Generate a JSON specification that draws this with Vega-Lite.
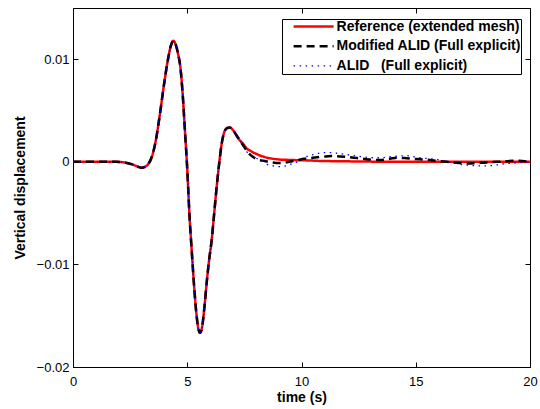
{
  "$schema": "https://vega.github.io/schema/vega-lite/v6.json",
  "width": 457,
  "height": 359,
  "autosize": {"type": "none"},
  "padding": {"left": 73, "top": 8, "right": 10, "bottom": 42},
  "background": "white",
  "config": {
    "view": {"stroke": "black", "strokeWidth": 1},
    "font": "Liberation Sans",
    "axis": {
      "domain": false,
      "grid": false,
      "tickColor": "black",
      "tickSize": -5,
      "tickWidth": 1,
      "labelColor": "black",
      "labelFont": "Liberation Sans",
      "labelFontSize": 13,
      "labelFlush": false,
      "labelOverlap": false,
      "titleFont": "Liberation Sans",
      "titleFontSize": 14,
      "titleFontWeight": "bold",
      "titleColor": "black"
    }
  },
  "data": {
    "values": [
      {"t": 0, "ref": 0, "mod": 0, "alid": 0},
      {"t": 1, "ref": 0, "mod": 0, "alid": 0},
      {"t": 1.9, "ref": 0, "mod": 0, "alid": 0},
      {"t": 2.3, "ref": -0.00008, "mod": -0.00008, "alid": -0.00008},
      {"t": 2.6, "ref": -0.00025, "mod": -0.00025, "alid": -0.00025},
      {"t": 2.85, "ref": -0.00048, "mod": -0.00048, "alid": -0.00048},
      {"t": 3.0, "ref": -0.00057, "mod": -0.00057, "alid": -0.00057},
      {"t": 3.15, "ref": -0.00048, "mod": -0.00048, "alid": -0.00048},
      {"t": 3.3, "ref": -0.0002, "mod": -0.0002, "alid": -0.0002},
      {"t": 3.45, "ref": 0.0005, "mod": 0.0005, "alid": 0.0005},
      {"t": 3.6, "ref": 0.0018, "mod": 0.0018, "alid": 0.0018},
      {"t": 3.8, "ref": 0.0046, "mod": 0.0046, "alid": 0.0046},
      {"t": 4.0, "ref": 0.0078, "mod": 0.0078, "alid": 0.0078},
      {"t": 4.15, "ref": 0.0099, "mod": 0.0099, "alid": 0.0099},
      {"t": 4.28, "ref": 0.0113, "mod": 0.0113, "alid": 0.0113},
      {"t": 4.39, "ref": 0.0118, "mod": 0.0118, "alid": 0.0118},
      {"t": 4.5, "ref": 0.0114, "mod": 0.0114, "alid": 0.0114},
      {"t": 4.6, "ref": 0.0105, "mod": 0.0105, "alid": 0.0105},
      {"t": 4.7, "ref": 0.0092, "mod": 0.0092, "alid": 0.0092},
      {"t": 4.8, "ref": 0.0066, "mod": 0.0066, "alid": 0.0066},
      {"t": 4.9, "ref": 0.003, "mod": 0.003, "alid": 0.003},
      {"t": 5.0, "ref": -0.0007, "mod": -0.0007, "alid": -0.0007},
      {"t": 5.1, "ref": -0.0053, "mod": -0.0053, "alid": -0.0053},
      {"t": 5.2, "ref": -0.0088, "mod": -0.0088, "alid": -0.0088},
      {"t": 5.3, "ref": -0.0121, "mod": -0.0121, "alid": -0.0121},
      {"t": 5.4, "ref": -0.0148, "mod": -0.0148, "alid": -0.0148},
      {"t": 5.48, "ref": -0.0162, "mod": -0.0162, "alid": -0.0162},
      {"t": 5.56, "ref": -0.01667, "mod": -0.01667, "alid": -0.01667},
      {"t": 5.65, "ref": -0.0161, "mod": -0.0161, "alid": -0.0161},
      {"t": 5.75, "ref": -0.0142, "mod": -0.0142, "alid": -0.0142},
      {"t": 5.85, "ref": -0.0118, "mod": -0.0118, "alid": -0.0118},
      {"t": 5.95, "ref": -0.0097, "mod": -0.0097, "alid": -0.0097},
      {"t": 6.07, "ref": -0.0076, "mod": -0.0076, "alid": -0.0076},
      {"t": 6.18, "ref": -0.005, "mod": -0.005, "alid": -0.005},
      {"t": 6.29, "ref": -0.0024, "mod": -0.0024, "alid": -0.0024},
      {"t": 6.4, "ref": -0.0001, "mod": -0.0001, "alid": -0.0001},
      {"t": 6.51, "ref": 0.0018, "mod": 0.0018, "alid": 0.0018},
      {"t": 6.62, "ref": 0.0029, "mod": 0.0029, "alid": 0.0029},
      {"t": 6.75, "ref": 0.0033, "mod": 0.0033, "alid": 0.0033},
      {"t": 6.87, "ref": 0.00334, "mod": 0.00334, "alid": 0.00334},
      {"t": 7.0, "ref": 0.0031, "mod": 0.0031, "alid": 0.0031},
      {"t": 7.15, "ref": 0.0026, "mod": 0.0026, "alid": 0.0026},
      {"t": 7.3, "ref": 0.0021, "mod": 0.0021, "alid": 0.0021},
      {"t": 7.45, "ref": 0.00175, "mod": 0.0016, "alid": 0.0015},
      {"t": 7.6, "ref": 0.0013, "mod": 0.0011, "alid": 0.001},
      {"t": 7.75, "ref": 0.0011, "mod": 0.0007, "alid": 0.0007},
      {"t": 7.9, "ref": 0.0009, "mod": 0.00045, "alid": 0.0005},
      {"t": 8.05, "ref": 0.00075, "mod": 0.00025, "alid": 0.00033},
      {"t": 8.2, "ref": 0.0006, "mod": 0.00015, "alid": 0.0002},
      {"t": 8.35, "ref": 0.0005, "mod": 0.0001, "alid": 0.0},
      {"t": 8.5, "ref": 0.0004, "mod": 0.00003, "alid": -0.00024},
      {"t": 8.7, "ref": 0.00032, "mod": -0.00005, "alid": -0.00036},
      {"t": 8.9, "ref": 0.00026, "mod": -0.0001, "alid": -0.00044},
      {"t": 9.06, "ref": 0.00022, "mod": -0.0001, "alid": -0.00047},
      {"t": 9.3, "ref": 0.0002, "mod": -0.00006, "alid": -0.0004},
      {"t": 9.5, "ref": 0.00018, "mod": 0.00003, "alid": -0.00024},
      {"t": 9.7, "ref": 0.00017, "mod": 0.0001, "alid": -0.00012},
      {"t": 9.9, "ref": 0.00016, "mod": 0.0002, "alid": 0.0001},
      {"t": 10.1, "ref": 0.00015, "mod": 0.0003, "alid": 0.0004},
      {"t": 10.5, "ref": 0.00012, "mod": 0.0004, "alid": 0.0007},
      {"t": 10.95, "ref": 0.00008, "mod": 0.0005, "alid": 0.0009},
      {"t": 11.3, "ref": 0.00007, "mod": 0.00057, "alid": 0.0009},
      {"t": 11.68, "ref": 0.00006, "mod": 0.00052, "alid": 0.0008},
      {"t": 12.0, "ref": 0.00005, "mod": 0.00047, "alid": 0.0007},
      {"t": 12.42, "ref": 0.00004, "mod": 0.00037, "alid": 0.00057},
      {"t": 12.71, "ref": 0.00003, "mod": 0.0003, "alid": 0.00048},
      {"t": 13.14, "ref": 0.00002, "mod": 0.0002, "alid": 0.0004},
      {"t": 13.44, "ref": 0.00001, "mod": 0.00018, "alid": 0.0004},
      {"t": 13.87, "ref": 0.00001, "mod": 0.0003, "alid": 0.0005},
      {"t": 14.17, "ref": 0, "mod": 0.0004, "alid": 0.00055},
      {"t": 14.6, "ref": 0, "mod": 0.00035, "alid": 0.0006},
      {"t": 14.9, "ref": 0, "mod": 0.0003, "alid": 0.0005},
      {"t": 15.19, "ref": 0, "mod": 0.00025, "alid": 0.0004},
      {"t": 15.62, "ref": 0, "mod": 0.00018, "alid": 0.0003},
      {"t": 15.92, "ref": 0, "mod": 0.0001, "alid": 0.00024},
      {"t": 16.35, "ref": 0, "mod": 0, "alid": 0},
      {"t": 16.64, "ref": 0, "mod": -0.00005, "alid": -0.0001},
      {"t": 17.08, "ref": 0, "mod": -0.00015, "alid": -0.00028},
      {"t": 17.37, "ref": 0, "mod": -0.00015, "alid": -0.00034},
      {"t": 17.81, "ref": 0, "mod": -0.0001, "alid": -0.0004},
      {"t": 17.96, "ref": 0, "mod": -0.00008, "alid": -0.0004},
      {"t": 18.54, "ref": 0, "mod": 0, "alid": -0.0003},
      {"t": 18.69, "ref": 0, "mod": 0.00002, "alid": -0.00024},
      {"t": 19.27, "ref": 0, "mod": 0.0001, "alid": -0.00012},
      {"t": 19.42, "ref": 0, "mod": 0.0001, "alid": -0.0001},
      {"t": 20, "ref": 0, "mod": 0, "alid": 0}
    ]
  },
  "transform": [{"fold": ["ref", "mod", "alid"], "as": ["key", "y"]}],
  "encoding": {
    "color": {
      "field": "key",
      "type": "nominal",
      "scale": {"domain": ["ref", "mod", "alid"], "range": ["#ff0000", "#000000", "#0000ff"]},
      "legend": {
        "title": null,
        "titlePadding": 0,
        "orient": "none",
        "legendX": 209,
        "legendY": 11,
        "direction": "vertical",
        "strokeColor": "black",
        "fillColor": "white",
        "padding": 0,
        "clipHeight": 15,
        "symbolType": "M-4,0H4",
        "symbolSize": 100,
        "symbolOffset": 24.6,
        "symbolStrokeWidth": 2.5,
        "labelOffset": 16,
        "rowPadding": 4.7,
        "labelFont": "Liberation Sans",
        "labelFontSize": 14,
        "labelFontWeight": "bold",
        "labelColor": "black",
        "labelLimit": 400,
        "labelExpr": "datum.value === 'ref' ? 'Reference (extended mesh)' : datum.value === 'mod' ? 'Modified ALID (Full explicit)' : 'ALID\u00a0\u00a0\u00a0(Full explicit)'",
        "encode": {"symbols": {"update": {"strokeWidth": {"signal": "datum.value === 'alid' ? 1.3 : 2.5"}}}}
      }
    },
    "strokeDash": {
      "field": "key",
      "type": "nominal",
      "scale": {"domain": ["ref", "mod", "alid"], "range": [[1, 0], [8, 5], [1.5, 4.5]]},
      "legend": {
        "title": null,
        "titlePadding": 0,
        "orient": "none",
        "legendX": 209,
        "legendY": 11,
        "direction": "vertical",
        "strokeColor": "black",
        "fillColor": "white",
        "padding": 0,
        "clipHeight": 15,
        "symbolType": "M-4,0H4",
        "symbolSize": 100,
        "symbolOffset": 24.6,
        "symbolStrokeWidth": 2.5,
        "labelOffset": 16,
        "rowPadding": 4.7,
        "labelFont": "Liberation Sans",
        "labelFontSize": 14,
        "labelFontWeight": "bold",
        "labelColor": "black",
        "labelLimit": 400,
        "labelExpr": "datum.value === 'ref' ? 'Reference (extended mesh)' : datum.value === 'mod' ? 'Modified ALID (Full explicit)' : 'ALID\u00a0\u00a0\u00a0(Full explicit)'",
        "encode": {"symbols": {"update": {"strokeWidth": {"signal": "datum.value === 'alid' ? 1.3 : 2.5"}}}}
      }
    }
  },
  "layer": [
    {
      "transform": [{"filter": "datum.key === 'ref'"}],
      "mark": {"type": "line", "interpolate": "monotone", "strokeWidth": 2.5},
      "encoding": {
        "x": {"field": "t", "type": "quantitative", "scale": {"domain": [0, 20], "nice": false},
              "axis": {"orient": "bottom", "values": [0, 5, 10, 15, 20], "title": "time (s)", "labelPadding": 13, "titlePadding": 2}},
        "y": {"field": "y", "type": "quantitative", "scale": {"domain": [-0.02, 0.015], "nice": false, "zero": false},
              "axis": {"orient": "left", "values": [-0.02, -0.01, 0, 0.01], "format": "~g", "title": "Vertical displacement", "labelPadding": 9, "titlePadding": 9}}
      }
    },
    {
      "transform": [{"filter": "datum.key === 'mod'"}],
      "mark": {"type": "line", "interpolate": "monotone", "strokeWidth": 2.5},
      "encoding": {
        "x": {"field": "t", "type": "quantitative", "scale": {"domain": [0, 20], "nice": false},
              "axis": {"orient": "top", "values": [0, 5, 10, 15, 20], "labels": false, "title": null}},
        "y": {"field": "y", "type": "quantitative", "scale": {"domain": [-0.02, 0.015], "nice": false, "zero": false},
              "axis": {"orient": "right", "values": [-0.02, -0.01, 0, 0.01], "labels": false, "title": null}}
      }
    },
    {
      "transform": [{"filter": "datum.key === 'alid'"}],
      "mark": {"type": "line", "interpolate": "monotone", "strokeWidth": 1.3},
      "encoding": {
        "x": {"field": "t", "type": "quantitative", "scale": {"domain": [0, 20], "nice": false}, "axis": null},
        "y": {"field": "y", "type": "quantitative", "scale": {"domain": [-0.02, 0.015], "nice": false, "zero": false}, "axis": null}
      }
    }
  ],
  "resolve": {"axis": {"x": "independent", "y": "independent"}}
}
